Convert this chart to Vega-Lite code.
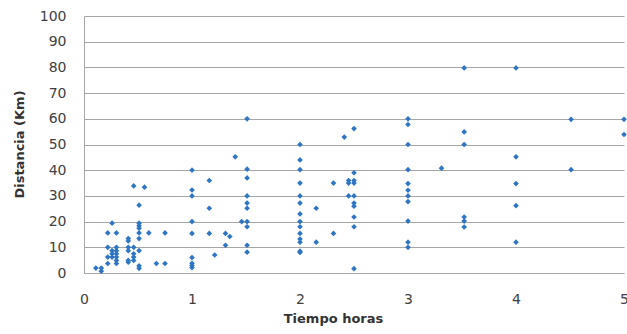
{
  "$schema": "https://vega.github.io/schema/vega-lite/v6.json",
  "width": 540,
  "height": 257,
  "autosize": "none",
  "padding": {"left": 84, "top": 16, "right": 3, "bottom": 61},
  "background": "white",
  "config": {"view": {"stroke": null}},
  "data": {"values": [
    {"t":0.11,"d":1.9},{"t":0.16,"d":1.9},{"t":0.16,"d":0.7},
    {"t":0.22,"d":15.6},{"t":0.22,"d":10},{"t":0.22,"d":6.2},{"t":0.22,"d":3.7},
    {"t":0.26,"d":19.4},{"t":0.26,"d":8.7},{"t":0.26,"d":7.5},{"t":0.26,"d":6.2},
    {"t":0.30,"d":15.6},{"t":0.30,"d":10},{"t":0.30,"d":8.7},{"t":0.30,"d":7.5},{"t":0.30,"d":6.2},{"t":0.30,"d":4.9},{"t":0.30,"d":3.7},
    {"t":0.41,"d":13.4},{"t":0.41,"d":12.5},{"t":0.41,"d":10},{"t":0.41,"d":8.7},{"t":0.41,"d":4.9},{"t":0.41,"d":4.2},
    {"t":0.46,"d":33.9},{"t":0.46,"d":10},{"t":0.46,"d":7.5},{"t":0.46,"d":6.2},{"t":0.46,"d":4.9},
    {"t":0.51,"d":26.4},{"t":0.51,"d":19.4},{"t":0.51,"d":18.4},{"t":0.51,"d":17.4},{"t":0.51,"d":15.6},{"t":0.51,"d":13.4},{"t":0.51,"d":8.7},{"t":0.51,"d":2.8},{"t":0.51,"d":1.8},
    {"t":0.56,"d":33.4},{"t":0.60,"d":15.6},{"t":0.67,"d":3.7},{"t":0.75,"d":15.6},{"t":0.75,"d":3.7},
    {"t":1.0,"d":40},{"t":1.0,"d":32.3},{"t":1.0,"d":30},{"t":1.0,"d":20},{"t":1.0,"d":15.4},{"t":1.0,"d":6},{"t":1.0,"d":3.8},{"t":1.0,"d":2.9},{"t":1.0,"d":2.1},
    {"t":1.16,"d":36},{"t":1.16,"d":25.2},{"t":1.16,"d":15.4},
    {"t":1.21,"d":7},
    {"t":1.31,"d":15.4},{"t":1.31,"d":10.8},
    {"t":1.35,"d":14.2},
    {"t":1.40,"d":45.2},
    {"t":1.46,"d":20},
    {"t":1.51,"d":60},{"t":1.51,"d":40.4},{"t":1.51,"d":37},{"t":1.51,"d":30},{"t":1.51,"d":27.2},{"t":1.51,"d":25.2},{"t":1.51,"d":20},{"t":1.51,"d":18},{"t":1.51,"d":10.8},{"t":1.51,"d":8.1},
    {"t":2.0,"d":50},{"t":2.0,"d":44},{"t":2.0,"d":40.2},{"t":2.0,"d":35},{"t":2.0,"d":30},{"t":2.0,"d":27.2},{"t":2.0,"d":23},{"t":2.0,"d":20},{"t":2.0,"d":18},{"t":2.0,"d":15.4},{"t":2.0,"d":13.2},{"t":2.0,"d":12},{"t":2.0,"d":8.5},{"t":2.0,"d":8},
    {"t":2.15,"d":25.2},{"t":2.15,"d":12},
    {"t":2.31,"d":35},{"t":2.31,"d":15.4},
    {"t":2.41,"d":52.9},
    {"t":2.45,"d":36},{"t":2.45,"d":35},{"t":2.45,"d":30},
    {"t":2.5,"d":56.2},{"t":2.5,"d":39},{"t":2.5,"d":36},{"t":2.5,"d":35},{"t":2.5,"d":30},{"t":2.5,"d":27.2},{"t":2.5,"d":26},{"t":2.5,"d":21.8},{"t":2.5,"d":18},{"t":2.5,"d":1.7},
    {"t":3.0,"d":60},{"t":3.0,"d":57.8},{"t":3.0,"d":50},{"t":3.0,"d":40.2},{"t":3.0,"d":34.8},{"t":3.0,"d":32.2},{"t":3.0,"d":30},{"t":3.0,"d":27.8},{"t":3.0,"d":20.2},{"t":3.0,"d":12},{"t":3.0,"d":10},
    {"t":3.31,"d":40.8},
    {"t":3.52,"d":79.8},{"t":3.52,"d":54.9},{"t":3.52,"d":50},{"t":3.52,"d":21.8},{"t":3.52,"d":20.2},{"t":3.52,"d":17.9},
    {"t":4.0,"d":79.8},{"t":4.0,"d":45.2},{"t":4.0,"d":34.8},{"t":4.0,"d":26.2},{"t":4.0,"d":12},
    {"t":4.51,"d":59.8},{"t":4.51,"d":40.2},
    {"t":5.0,"d":59.8},{"t":5.0,"d":53.9}
  ]},
  "mark": {"type": "point", "shape": "diamond", "filled": true, "size": 32, "color": "#2E75C3", "opacity": 1},
  "encoding": {
    "x": {
      "field": "t", "type": "quantitative",
      "scale": {"domain": [0, 5], "nice": false, "zero": false},
      "axis": {
        "values": [0, 1, 2, 3, 4, 5], "grid": false, "ticks": false, "tickSize": 0,
        "domainColor": "#a6a6a6", "domainWidth": 1,
        "labelFont": "DejaVu Sans", "labelFontSize": 14, "labelColor": "#404040",
        "labelPadding": 30, "labelBaseline": "alphabetic", "labelFlush": false, "labelOverlap": false,
        "title": "Tiempo horas", "titleFont": "DejaVu Sans", "titleFontSize": 13, "titleFontWeight": "bold",
        "titleColor": "#333333", "titleX": 249, "titleY": 49, "titleBaseline": "alphabetic"
      }
    },
    "y": {
      "field": "d", "type": "quantitative",
      "scale": {"domain": [0, 100], "nice": false},
      "axis": {
        "values": [0, 10, 20, 30, 40, 50, 60, 70, 80, 90, 100], "grid": true, "gridColor": "#a6a6a6", "gridWidth": 1,
        "ticks": false, "tickSize": 0,
        "domainColor": "#a6a6a6", "domainWidth": 1,
        "labelFont": "DejaVu Sans", "labelFontSize": 14, "labelColor": "#404040",
        "labelPadding": 18, "labelBaseline": "middle", "labelFlush": false, "labelOverlap": false,
        "title": "Distancia (Km)", "titleFont": "DejaVu Sans", "titleFontSize": 13, "titleFontWeight": "bold",
        "titleColor": "#333333", "titleX": -61, "titleY": 128, "titleBaseline": "alphabetic"
      }
    }
  }
}
